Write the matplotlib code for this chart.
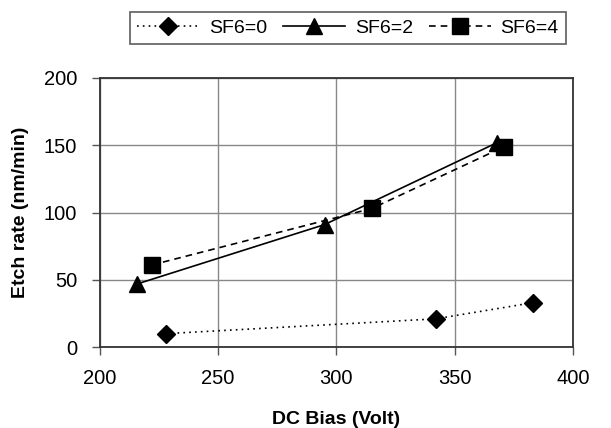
import matplotlib
matplotlib.use("Agg")
import matplotlib.pyplot as plt

plt.rcParams['font.family'] = ['Liberation Sans', 'DejaVu Sans']

# values
bias_sf0 = [228, 342, 383]
rate_sf0 = [10, 21, 33]
bias_sf2 = [216, 295, 368]
rate_sf2 = [47, 91, 152]
bias_sf4 = [222, 315, 371]
rate_sf4 = [61, 103, 149]
labels = ["SF6=0", "SF6=2", "SF6=4"]

fig = plt.figure(figsize=(6.11, 4.28), dpi=100)
ax = fig.add_axes([0.163, 0.189, 0.775, 0.629])

ax.plot(bias_sf0, rate_sf0, color="black", ls=(0, (1, 2.5)), lw=1.2,
        marker="D", ms=9, label=labels[0])
ax.plot(bias_sf2, rate_sf2, color="black", ls="-", lw=1.2,
        marker="^", ms=12, label=labels[1])
ax.plot(bias_sf4, rate_sf4, color="black", ls=(0, (4, 3)), lw=1.2,
        marker="s", ms=11, label=labels[2])

ax.set_xlim(200, 400)
ax.set_ylim(0, 200)
ax.set_xticks([200, 250, 300, 350, 400])
ax.set_yticks([0, 50, 100, 150, 200])
ax.grid(True, color="#888888", lw=1)
ax.set_axisbelow(True)
for s in ax.spines.values():
    s.set_color("#333333")
    s.set_linewidth(1.3)
ax.tick_params(labelsize=14.5, length=6, width=1, color="#555555", pad=10)

ax.set_xlabel("DC Bias (Volt)", fontsize=14, fontweight="bold", labelpad=16)
ax.set_ylabel("Etch rate (nm/min)", fontsize=14, fontweight="bold", labelpad=11)

leg = fig.legend(loc="center", bbox_to_anchor=(348 / 611, 1 - 28 / 428), ncol=3,
                 fontsize=14, frameon=True, fancybox=False, edgecolor="#333333",
                 handlelength=3.2, columnspacing=0.8, handletextpad=0.5,
                 borderpad=0.35)
leg.get_frame().set_linewidth(1.2)

fig.savefig("out.png", dpi=100)
